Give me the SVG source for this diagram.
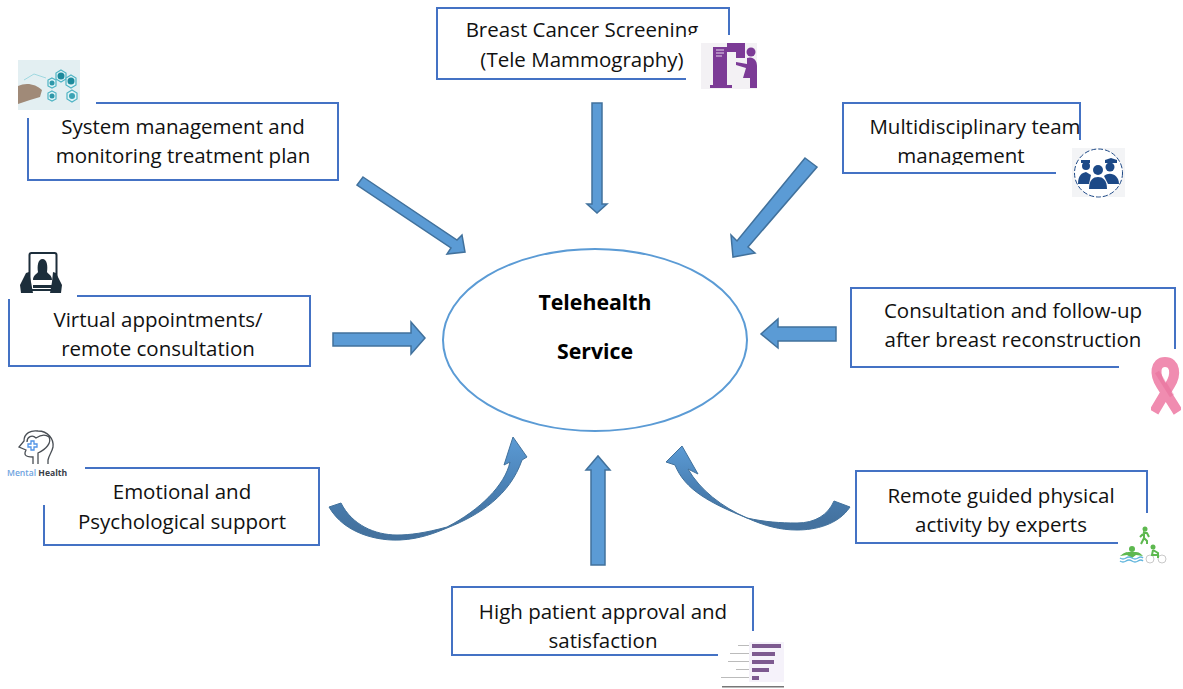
<svg xmlns="http://www.w3.org/2000/svg" width="1183" height="689" viewBox="0 0 1183 689">
<style>
.box{fill:#fff;stroke:#4472c4;stroke-width:2}
.cover{fill:#fff}
.lbl{font-family:"Open Sans","Noto Sans",sans-serif;font-size:20.5px;fill:#111;text-anchor:middle}
.ttl{font-family:"Open Sans","Noto Sans",sans-serif;font-size:21.3px;font-weight:700;fill:#000;text-anchor:middle}
.arr{fill:#5b9bd5;stroke:#41719c;stroke-width:1.5}
.curve{stroke:#41719c;stroke-width:1}
</style>
<defs>
<linearGradient id="gl" x1="0" y1="1" x2="0" y2="0"><stop offset="0.1" stop-color="#44729f"/><stop offset="0.5" stop-color="#4a80b4"/><stop offset="1" stop-color="#5b9bd5"/></linearGradient>
<filter id="b1"><feGaussianBlur stdDeviation="0.5"/></filter>
<filter id="b2"><feGaussianBlur stdDeviation="0.7"/></filter>
</defs>
<g id="connectors">
<polygon class="arr" points="592,103 602,103 602,204 607,204 597,213 587,204 592,204"/>
<polygon class="arr" points="363,177 457,240 462,235 465,252 447,254 451,248 357,185"/>
<polygon class="arr" points="805,158 817,167 748,247 755,253 733,257 731,235 737,241"/>
<polygon class="arr" points="333,333 411,333 411,322 425,338 411,354 411,346 333,346"/>
<polygon class="arr" points="836,327 778,327 778,319 761,334 778,348 778,341 836,341"/>
<polygon class="arr" points="591,565 591,470 586,470 598,456 610,470 605,470 605,565"/>
<path class="curve" fill="url(#gl)" d="M329,507C345,535 380,541 400,540C420,539 435,533 447,528C480,515 510,495 522,460L527,457L513,437L504,465L510,462C505,485 480,510 447,527C425,533 410,535 397,535C375,535 352,525 341,503Z"/>
<path class="curve" fill="url(#gl)" d="M850,507C838,525 815,530 797,530C780,530 765,526 747,518C710,503 685,490 675,465L666,462L682,446L698,474L688,469C700,490 722,507 747,518C765,522 780,523 797,523C815,523 828,515 834,501Z"/>
</g>
<g id="center">
<ellipse cx="595" cy="340" rx="152" ry="91" fill="#fff" stroke="#5b9bd5" stroke-width="2"/>
<text class="ttl" x="595" y="310">Telehealth</text>
<text class="ttl" x="595" y="359">Service</text>
</g>
<g id="screening">
<rect class="box" x="437" y="8" width="292" height="71"/>
<text class="lbl" x="582" y="37">Breast Cancer Screening</text>
<text class="lbl" x="582" y="67">(Tele Mammography)</text>
<rect class="cover" x="686" y="35" width="75" height="56"/>
<rect x="701" y="43" width="56" height="46" fill="#f3f1f4"/>
<g fill="#7b3a96" filter="url(#b1)">
<rect x="713" y="47" width="14" height="41"/><rect x="710" y="85" width="22" height="3"/>
<path d="M727,43H745V58H736V52H727Z"/>
<circle cx="751" cy="52" r="4.500"/>
<path d="M747,58C753,56 757,60 757,66V76L757,88H750V78H743L746,68L736,65V62L747,64Z"/>
</g>
<path d="M716,50h8M716,53h8M716,56h6" stroke="#e6d8ec" stroke-width="1"/>
</g>
<g id="system">
<rect class="box" x="28" y="103" width="310" height="77"/>
<text class="lbl" x="183" y="134">System management and</text>
<text class="lbl" x="183" y="163">monitoring treatment plan</text>
<rect class="cover" x="0" y="55" width="96" height="47"/><rect class="cover" x="0" y="100" width="96" height="18"/>
<rect x="18" y="60" width="62" height="50" fill="#e3eff2"/>
<g filter="url(#b2)">
<path d="M18,86C26,82 36,84 42,90L40,97L30,100L18,104Z" fill="#a08a78"/>
<g fill="#dff3f6" stroke="#4fb4c4" stroke-width="1.200">
<polygon points="61,70 66,73 66,79 61,82 56,79 56,73"/>
<polygon points="71,75 76,78 76,85 71,88 66,85 66,78"/>
<polygon points="72,90 77,93 77,99 72,102 67,99 67,93"/>
<polygon points="52,78 56,80 56,86 52,88 48,86 48,80"/>
<polygon points="52,91 56,93 56,99 52,101 48,99 48,93"/>
</g>
<circle cx="61" cy="76" r="3.500" fill="#1f8a9c"/><circle cx="71" cy="81" r="3.500" fill="#1f8a9c"/><circle cx="72" cy="96" r="3" fill="#3aa3b5"/><circle cx="52" cy="83" r="2.500" fill="#2e97a9"/><circle cx="52" cy="96" r="2.500" fill="#2e97a9"/>
<path d="M24,80L34,74L46,78" stroke="#9fd8e0" fill="none"/>
</g>
</g>
<g id="team">
<rect class="box" x="843" y="103" width="237" height="70"/>
<text class="lbl" x="975" y="134">Multidisciplinary team</text>
<text class="lbl" x="961" y="163">management</text>
<rect class="cover" x="900" y="165" width="125" height="7"/>
<rect class="cover" x="1056" y="140" width="30" height="40"/>
<rect x="1072" y="148" width="53" height="49" fill="#f3f4f6"/>
<circle cx="1098.500" cy="173" r="24" fill="#fff" stroke="#1f4a87" stroke-width="1" stroke-dasharray="5 2"/>
<g fill="#1f4a87" filter="url(#b1)">
<path d="M1081,160h9v3h-9z"/><circle cx="1086" cy="166" r="4"/><circle cx="1098" cy="170" r="5"/><path d="M1105,160l6,-2l6,2v3h-12z"/><circle cx="1110" cy="167" r="4.500"/>
<path d="M1078,184C1078,175 1082,173 1086,172L1091,175L1089,184Z"/>
<path d="M1089,189C1089,180 1093,177 1098,177C1103,177 1107,180 1107,189Z"/>
<path d="M1104,176C1110,171 1119,175 1119,184H1108Z"/>
</g>
</g>
<g id="virtual">
<rect class="box" x="9" y="296" width="301" height="70"/>
<text class="lbl" x="158" y="327">Virtual appointments/</text>
<text class="lbl" x="158" y="356">remote consultation</text>
<rect class="cover" x="0" y="250" width="77" height="45"/><rect class="cover" x="0" y="294" width="77" height="5"/>
<g filter="url(#b1)">
<rect x="29.500" y="253" width="27" height="37" rx="2" fill="#fff" stroke="#1f2d3a" stroke-width="2"/>
<path d="M33,280C33,275 37,274 38,272C37,266 38,259 42.500,259C47,259 48,266 47,272C48,274 52,275 52,280Z" fill="#1f2d3a"/>
<rect x="33" y="285" width="20" height="3" fill="#1f2d3a"/>
<path d="M20,285L26,273L29,272L31,282L33,293H21Z" fill="#1f2d3a"/>
<path d="M62,285L56,273L53,272L52,282L50,293H61Z" fill="#1f2d3a"/>
</g>
</g>
<g id="reconstruction">
<rect class="box" x="851" y="288" width="324" height="79"/>
<text class="lbl" x="1013" y="318">Consultation and follow-up</text>
<text class="lbl" x="1013" y="347">after breast reconstruction</text>
<rect class="cover" x="1119" y="349" width="64" height="20"/>
<g filter="url(#b1)">
<path d="M1154,412L1170,385C1177,374 1175,362 1165,362C1155,362 1154,374 1161,385L1178,412" fill="none" stroke="#f08cb0" stroke-width="10"/>
<path d="M1157,372L1172,396" stroke="#e2618f" stroke-width="5" opacity="0.35"/>
</g>
</g>
<g id="emotional">
<rect class="box" x="44" y="468" width="275" height="77"/>
<text class="lbl" x="182" y="499">Emotional and</text>
<text class="lbl" x="182" y="529">Psychological support</text>
<rect class="cover" x="0" y="425" width="85" height="80"/>
<g filter="url(#b1)">
<path d="M33,464V457C24,457 24,454 26,450L19,447L24,441C24,433 31,430 38,431C48,431 54,439 53,447C52,452 49,455 48,460V464M38,464V453C46,449 52,443 49,437C44,433 39,436 36,438C32,434 27,437 27,442" fill="none" stroke="#4a4f55" stroke-width="1.300"/>
<path d="M28,444h3v-3h3v3h3v3h-3v3h-3v-3h-3z" fill="#fff" stroke="#4f93e6" stroke-width="1.300"/>
</g>
<text x="7" y="476" font-family="'Open Sans',sans-serif" font-size="8.600" font-weight="600" fill="#6ea3e0">Mental <tspan fill="#3a4048" font-weight="700">Health</tspan></text>
</g>
<g id="physical">
<rect class="box" x="856" y="471" width="291" height="72"/>
<text class="lbl" x="1001" y="503">Remote guided physical</text>
<text class="lbl" x="1001" y="532">activity by experts</text>
<rect class="cover" x="1118" y="513" width="32" height="32"/>
<g filter="url(#b1)">
<circle cx="1145" cy="529" r="2.500" fill="#5db84f"/>
<path d="M1143,532L1147,533L1149,537M1144,533L1144,538L1147,541L1147,544M1144,538L1141,544M1143,534L1140,537" stroke="#5db84f" stroke-width="2" fill="none"/>
<circle cx="1132" cy="549" r="3" fill="#5db84f"/>
<path d="M1120,556C1125,551 1129,552 1132,552C1136,552 1139,551 1143,556L1136,555L1132,558L1127,555Z" fill="#5db84f"/>
<path d="M1120,558q3,2 6,0t6,0t6,0t5,0M1120,561q3,2 6,0t6,0t6,0t5,0" stroke="#63b6dd" stroke-width="1.500" fill="none"/>
<circle cx="1150" cy="559" r="4" fill="#fff" stroke="#c9c9c9" stroke-width="1"/><circle cx="1162" cy="559" r="4" fill="#fff" stroke="#c9c9c9" stroke-width="1"/>
<circle cx="1153" cy="547" r="2.500" fill="#5db84f"/>
<path d="M1153,550L1158,553L1158,558M1153,550L1152,555L1157,555" stroke="#5db84f" stroke-width="2" fill="none"/>
</g>
</g>
<g id="approval">
<rect class="box" x="452" y="587" width="301" height="68"/>
<text class="lbl" x="603" y="619">High patient approval and</text>
<text class="lbl" x="603" y="648">satisfaction</text>
<rect class="cover" x="718" y="631" width="40" height="30"/>
<g filter="url(#b2)">
<rect x="749" y="642" width="35" height="40" fill="#f5f2fa"/>
<g fill="#7d5a90">
<rect x="752" y="644" width="29" height="4"/><rect x="752" y="652" width="23" height="4"/><rect x="752" y="660" width="22" height="4"/><rect x="752" y="668" width="17" height="4"/><rect x="752" y="676" width="7" height="4"/>
</g>
<g fill="#bbb">
<rect x="738" y="645" width="11" height="1"/><rect x="730" y="653" width="19" height="1"/><rect x="728" y="661" width="21" height="1"/><rect x="736" y="669" width="13" height="1"/><rect x="721" y="677" width="28" height="1"/>
</g>
<rect x="722" y="686" width="62" height="1.500" fill="#777"/>
</g>
</g>
</svg>
